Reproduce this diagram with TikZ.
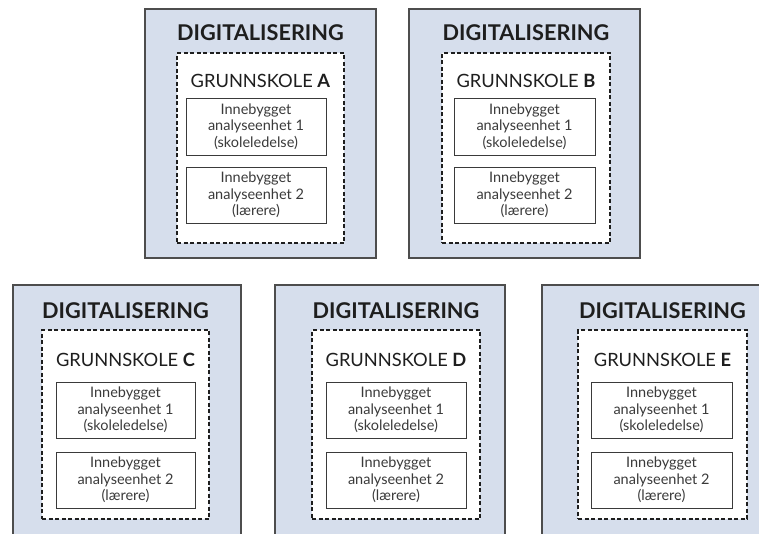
\documentclass[tikz,border=0pt]{standalone}
\usepackage{fontspec}
\setmainfont{Lato}
\usetikzlibrary{fit}

\definecolor{panelfill}{HTML}{D6DEEC}
\definecolor{panelline}{HTML}{4D4D4D}
\definecolor{ink}{HTML}{1E1E1E}
\definecolor{unitink}{HTML}{3A3A3A}

\tikzset{
  panel/.style={draw=panelline, line width=1.4pt, fill=panelfill, inner sep=0pt},
  school/.style={draw=ink, line width=1.2pt, dash pattern=on 4pt off 2.5pt, fill=white, inner sep=0pt},
  unit/.style={draw=unitink, line width=1pt, fill=white, inner sep=0pt, align=center,
    font=\fontsize{14.5}{16.5}\selectfont, text=unitink},
  heading/.style={font=\bfseries\fontsize{21.7}{24}\selectfont, text=ink, inner sep=0pt},
  schoolname/.style={font=\fontsize{18.3}{20}\selectfont, text=ink, inner sep=0pt},
}

% One school panel: #1 letter, #2/#3 outer left/right, #4/#5 dashed left/right,
% #6/#7 unit box left/right; vertical positions come from the current row macros.
\newcommand\schoolpanel[7]{%
  \node[panel, fit={(#2,\rowO) (#3,\rowOb)}] (P#1) {};
  \node[school, fit={(#4,\rowDa) (#5,\rowDb)}] (S#1) {};
  \node[heading] (H#1) at ({(#4+#5)/2},\rowH) {DIGITALISERING};
  \node[schoolname] (G#1) at ({(#4+#5)/2},\rowG) {GRUNNSKOLE \textbf{#1}};
  \node[unit, minimum width={#7pt-#6pt}, minimum height={\rowUb pt-\rowUa pt}]
    (Ua#1) at ({(#6+#7)/2},{(\rowUa+\rowUb)/2}) {Innebygget\\analyseenhet 1\\(skoleledelse)};
  \node[unit, minimum width={#7pt-#6pt}, minimum height={\rowVb pt-\rowVa pt}]
    (Ub#1) at ({(#6+#7)/2},{(\rowVa+\rowVb)/2}) {Innebygget\\analyseenhet 2\\(lærere)};
}

\begin{document}
\begin{tikzpicture}[x=1pt, y=-1pt]
  \useasboundingbox (0,0) rectangle (759,533);
  \clip (0,0) rectangle (759,533);
  \fill[white] (0,0) rectangle (759,533);

  % upper row
  \def\rowO{9}\def\rowOb{258}
  \def\rowDa{53}\def\rowDb{243}
  \def\rowH{33}\def\rowG{81}
  \def\rowUa{98}\def\rowUb{155}
  \def\rowVa{167}\def\rowVb{223}
  \schoolpanel{A}{145}{376}{177}{344}{186}{326}
  \schoolpanel{B}{409}{640}{442}{610}{454}{595}

  % lower row, running past the bottom edge
  \def\rowO{285}\def\rowOb{560}
  \def\rowDa{330}\def\rowDb{519}
  \def\rowH{311}\def\rowG{360}
  \def\rowUa{382}\def\rowUb{438}
  \def\rowVa{452}\def\rowVb{508}
  \schoolpanel{C}{13}{241}{42}{209}{56}{195}
  \schoolpanel{D}{275}{505}{312}{480}{326}{466}
  \schoolpanel{E}{542}{790}{578}{747}{591}{732}
\end{tikzpicture}
\end{document}
